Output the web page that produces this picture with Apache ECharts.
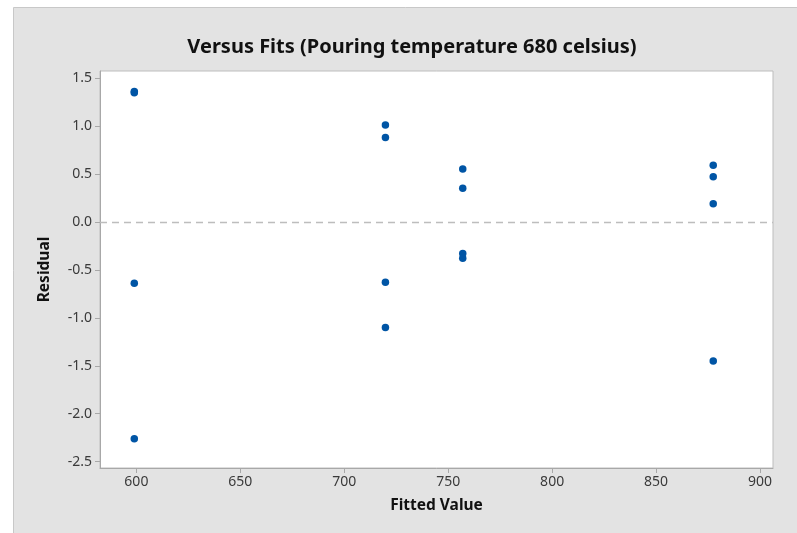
<!DOCTYPE html>
<html>
<head>
<meta charset="utf-8">
<script src="https://cdn.jsdelivr.net/npm/echarts@6/dist/echarts.min.js"></script>
<style>html,body{margin:0;padding:0;background:#fff}#c{width:797px;height:533px}</style>
</head>
<body>
<div id="c"></div>
<script>
const fitted = [599, 599, 599, 599, 719.8, 719.8, 719.8, 719.8, 757, 757, 757, 757, 877.5, 877.5, 877.5, 877.5];
const residuals = [1.36, 1.345, -0.64, -2.26, 1.01, 0.88, -0.63, -1.10, 0.55, 0.35, -0.33, -0.38, 0.59, 0.47, 0.19, -1.45];
const xTicks = [600, 650, 700, 750, 800, 850, 900];
const yTicks = [-2.5, -2.0, -1.5, -1.0, -0.5, 0.0, 0.5, 1.0, 1.5];
const titleText = 'Versus Fits (Pouring temperature 680 celsius)';
const xName = 'Fitted Value';
const yName = 'Residual';

const chart = echarts.init(document.getElementById('c'), null, {renderer: 'canvas'});
const font = '"Noto Sans", "Open Sans", sans-serif';
chart.setOption({
  animation: false,
  backgroundColor: '#ffffff',
  graphic: [{
    type: 'rect', z: -10, silent: true,
    shape: {x: 13.5, y: 7.5, width: 790, height: 530},
    style: {fill: '#e3e3e3', stroke: '#c8c8c8', lineWidth: 1}
  }],
  title: {
    text: titleText,
    left: 407, top: 32, textAlign: 'center',
    textStyle: {fontFamily: font, fontWeight: 'bold', fontSize: 20, color: '#111'}
  },
  grid: {
    left: 100, top: 71, right: 24, bottom: 65,
    show: true, backgroundColor: '#ffffff', borderColor: '#bdbdbd', borderWidth: 1
  },
  xAxis: {
    type: 'value', min: 582.5, max: 906.25,
    name: xName, nameLocation: 'middle', nameGap: 30,
    nameTextStyle: {fontFamily: font, fontWeight: 'bold', fontSize: 15.5, color: '#111'},
    axisLine: {show: true, onZero: false, lineStyle: {color: '#a8a8a8'}},
    axisTick: {show: true, length: 5, lineStyle: {color: '#a8a8a8'},
      customValues: xTicks},
    axisLabel: {fontFamily: font, fontSize: 14, color: '#3a3a3a', margin: 7,
      customValues: xTicks, formatter: v => String(v)},
    splitLine: {show: false}
  },
  yAxis: {
    type: 'value', min: -2.566, max: 1.573,
    name: yName, nameLocation: 'middle', nameGap: 47, nameRotate: 90,
    nameTextStyle: {fontFamily: font, fontWeight: 'bold', fontSize: 15.5, color: '#111'},
    axisLine: {show: true, onZero: false, lineStyle: {color: '#a8a8a8'}},
    axisTick: {show: true, length: 5, lineStyle: {color: '#a8a8a8'},
      customValues: yTicks},
    axisLabel: {fontFamily: font, fontSize: 14, color: '#3a3a3a', margin: 8,
      customValues: yTicks, formatter: v => v.toFixed(1)},
    splitLine: {show: false}
  },
  series: [{
    type: 'scatter',
    data: fitted.map((x, i) => [x, residuals[i]]),
    symbol: 'circle', symbolSize: 7.5,
    itemStyle: {color: '#0055a5', opacity: 1},
    markLine: {
      silent: true, symbol: ['none', 'none'],
      label: {show: false},
      lineStyle: {color: '#bdbdbd', type: [7, 5], width: 1.3},
      data: [{yAxis: 0}]
    }
  }]
});
</script>
</body>
</html>
